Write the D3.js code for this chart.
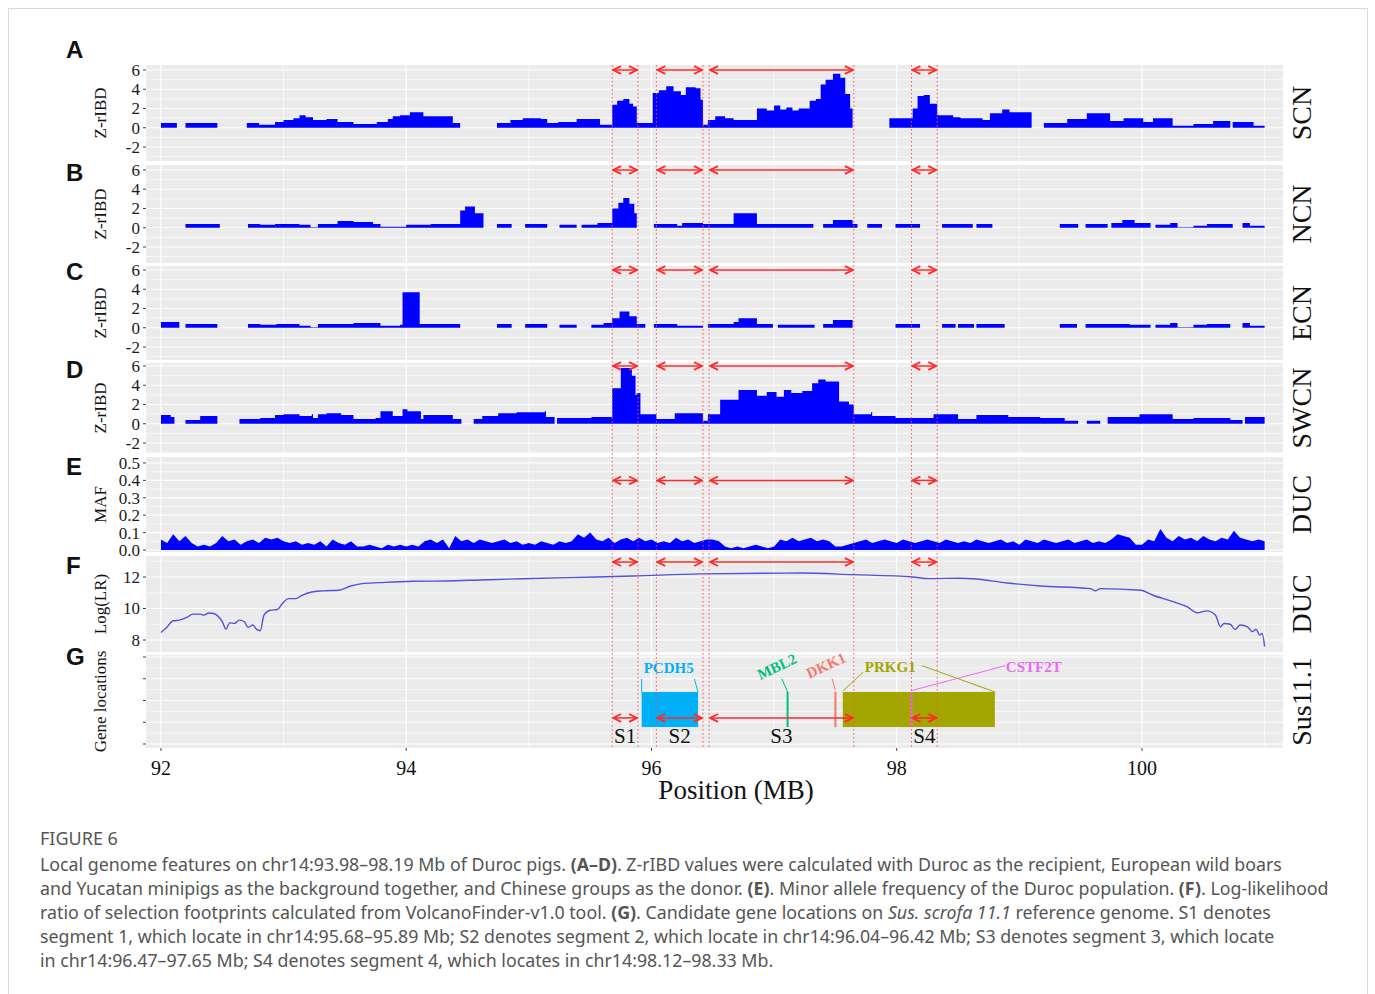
<!DOCTYPE html>
<html>
<head>
<meta charset="utf-8">
<script src="https://cdn.jsdelivr.net/npm/d3@7"></script>
<style>
body{margin:0;background:#fff;}
svg text{font-family:"Liberation Serif","Times New Roman",serif;}
svg text.letter{font-family:"Liberation Sans",Arial,sans-serif;font-weight:bold;}
svg text.cap{font-family:"Noto Sans",sans-serif;fill:#555;}
</style>
</head>
<body>
<svg id="chart" width="1375" height="994"></svg>
<script>
// ---- data (positions in Mb, Z-rIBD step values; null = no data until next point)
const scnSteps = [[92.00,0.5],[92.13,null],[92.20,0.5],[92.46,null],[92.70,0.5],[92.80,0.3],[92.93,0.6],[93.00,0.8],[93.08,1.0],[93.13,1.3],[93.18,1.1],[93.24,0.8],[93.35,0.9],[93.44,0.6],[93.57,0.4],[93.76,0.6],[93.85,0.9],[93.89,1.2],[93.95,1.3],[94.03,1.6],[94.14,1.2],[94.38,0.5],[94.44,null],
  [94.74,0.5],[94.85,0.8],[94.95,1.0],[95.10,0.9],[95.15,0.5],[95.24,0.6],[95.39,0.9],[95.58,0.3],[95.68,2.4],[95.72,2.8],[95.77,3.0],[95.82,2.5],[95.85,2.2],[95.88,0.5],[96.01,3.6],[96.06,3.9],[96.12,4.3],[96.18,3.8],[96.24,3.4],[96.28,4.2],[96.36,4.1],[96.40,2.9],[96.42,0.3],[96.46,0.8],[96.52,1.2],[96.60,1.0],[96.67,0.8],[96.86,2.0],[96.94,1.8],[97.00,2.3],[97.05,1.9],[97.10,2.1],[97.15,1.8],[97.20,2.0],[97.29,2.8],[97.34,3.0],[97.38,4.5],[97.42,5.0],[97.48,5.6],[97.54,5.2],[97.58,3.5],[97.62,2.0],[97.64,null],
  [97.94,1.0],[98.13,2.0],[98.17,3.3],[98.22,3.4],[98.27,2.5],[98.33,1.3],[98.46,1.1],[98.52,1.0],[98.70,0.8],[98.76,1.5],[98.86,1.9],[98.92,1.6],[99.10,null],
  [99.20,0.5],[99.39,0.9],[99.55,1.5],[99.74,0.7],[99.85,1.0],[100.01,0.6],[100.09,1.0],[100.25,0.2],[100.42,0.4],[100.58,0.7],[100.72,null],[100.74,0.6],[100.91,0.2],[101.00,null]];

const ncnSteps = [[92.20,0.4],[92.48,null],[92.71,0.4],[92.81,0.3],[92.93,0.4],[93.13,0.3],[93.22,0.05],[93.28,0.4],[93.44,0.7],[93.57,0.6],[93.73,0.4],[93.79,0.1],[94.00,0.3],[94.20,0.4],[94.44,1.8],[94.48,2.2],[94.56,1.5],[94.63,null],
  [94.74,0.4],[94.86,null],[94.97,0.4],[95.15,null],[95.25,0.3],[95.39,null],[95.43,0.3],[95.56,0.5],[95.68,2.0],[95.73,2.6],[95.77,3.1],[95.82,2.5],[95.86,1.5],[95.88,null],
  [96.02,0.4],[96.21,0.2],[96.25,0.5],[96.42,0.4],[96.67,1.5],[96.86,0.4],[97.32,null],[97.40,0.4],[97.48,0.8],[97.64,0.4],[97.68,null],[97.76,0.4],[97.88,null],[97.99,0.4],[98.19,null],
  [98.37,0.4],[98.62,null],[98.65,0.4],[98.78,null],[99.33,0.4],[99.48,null],[99.54,0.4],[99.72,null],[99.75,0.5],[99.84,0.8],[99.94,0.5],[100.07,null],
  [100.11,0.3],[100.23,0.5],[100.29,0.05],[100.42,0.2],[100.53,0.4],[100.74,null],[100.82,0.5],[100.88,0.2],[101.00,null]];

const ecnSteps = [[92.00,0.6],[92.15,null],[92.20,0.4],[92.46,null],[92.71,0.4],[92.81,0.3],[92.94,0.4],[93.13,0.2],[93.22,0.05],[93.28,0.4],[93.57,0.5],[93.79,0.2],[93.95,0.3],[93.97,3.7],[94.11,0.4],[94.44,null],
  [94.74,0.4],[94.86,null],[94.97,0.4],[95.15,null],[95.25,0.3],[95.39,null],[95.51,0.3],[95.61,0.5],[95.68,1.0],[95.74,1.7],[95.82,1.2],[95.88,0.4],[95.95,null],
  [96.02,0.4],[96.21,0.2],[96.42,null],[96.46,0.4],[96.67,0.6],[96.71,1.0],[96.86,0.4],[96.99,null],[97.03,0.3],[97.33,null],[97.40,0.4],[97.48,0.8],[97.64,null],
  [97.99,0.4],[98.19,null],[98.37,0.4],[98.48,null],[98.50,0.4],[98.63,null],[98.65,0.4],[98.88,null],[99.33,0.4],[99.47,null],[99.54,0.4],[99.90,0.3],[100.07,null],
  [100.11,0.3],[100.23,0.5],[100.29,0.05],[100.42,0.3],[100.53,0.4],[100.72,null],[100.82,0.5],[100.88,0.2],[101.00,null]];

const swcnSteps = [[92.00,0.9],[92.08,0.7],[92.11,null],[92.20,0.4],[92.32,0.8],[92.46,null],[92.64,0.5],[92.81,0.6],[92.93,0.9],[93.00,1.0],[93.13,0.8],[93.23,1.0],[93.24,0.6],[93.28,1.0],[93.35,1.1],[93.47,0.9],[93.57,0.5],[93.75,0.6],[93.79,1.3],[93.89,0.8],[93.97,1.5],[94.01,1.3],[94.12,0.5],[94.14,0.9],[94.38,0.5],[94.45,null],
  [94.55,0.5],[94.62,0.8],[94.75,1.1],[94.90,1.2],[95.13,1.3],[95.14,0.7],[95.21,null],[95.23,0.6],[95.51,0.7],[95.68,3.7],[95.75,5.8],[95.84,5.0],[95.87,3.0],[95.88,3.2],[95.91,1.0],[96.04,0.5],[96.19,1.1],[96.42,0.3],
  [96.46,1.0],[96.56,2.5],[96.71,3.5],[96.86,2.9],[96.94,3.3],[97.02,2.8],[97.08,3.5],[97.14,3.2],[97.23,3.4],[97.31,4.2],[97.36,4.6],[97.42,4.4],[97.53,2.3],[97.61,2.0],[97.65,1.0],[97.79,1.2],[97.80,0.8],[97.99,0.6],
  [98.30,1.0],[98.50,0.5],[98.65,0.9],[98.91,0.7],[99.17,0.6],[99.37,0.3],[99.48,null],[99.55,0.3],[99.66,null],[99.72,0.7],[99.98,1.0],[100.25,0.5],[100.42,0.6],[100.72,0.4],[100.82,null],[100.84,0.7],[101.00,null]];

// minor allele frequency, one value every 0.05 Mb from 92.00
const mafStart = 92.0, mafStep = 0.05;
const mafValues = [0.06,0.04,0.09,0.05,0.08,0.04, 0.02,0.03,0.02, 0.04,0.08,0.05,0.06,0.03,0.05,0.06,0.04,
  0.07,0.06,0.07,0.05, 0.04,0.05,0.03,0.04, 0.03,0.05,0.02,0.06,0.04,0.03,0.05,0.02,
  0.02,0.03,0.02,0.01,0.03,0.02,0.03,0.02,0.03,0.02, 0.05,0.06,0.04,0.06, 0.01, 0.08,
  0.05,0.06,0.04,0.06,0.05,0.04,0.05,0.06,0.04,0.05,0.03, 0.04,0.03,0.05,0.04,0.03,0.05,0.04,0.05,
  0.09,0.07,0.10,0.06, 0.05,0.07,0.04,0.06,0.07,0.05,0.07, 0.05,0.06,0.04, 0.05,0.04,0.07,0.05,0.06,0.04,0.05,
  0.06,0.06,0.05, 0.02,0.01,0.02,0.01,0.02,0.03,0.02,0.01,0.02, 0.06,0.05,0.07,0.05,0.06,0.07,0.05,0.06,0.05,
  0.02,0.02,0.03, 0.04,0.05,0.06,0.04,0.05,0.06,0.05,0.04,0.06,0.05,0.04,0.05,0.06,0.05,0.04,0.06,0.05,0.04,
  0.05,0.04,0.06,0.05,0.04,0.05,0.06,0.04,0.05,0.03,0.06,0.05,0.04,0.06,0.05,0.04,0.05,0.06,0.04,0.05,0.06,0.04,0.05,0.04,0.06,
  0.09,0.08,0.07, 0.03,0.03, 0.06,0.05,0.12,0.07,0.05,0.08,0.06,0.07,0.05,0.08,0.06,0.05,0.07,0.06,0.11,0.07,0.06,0.05,0.06,0.05];

// VolcanoFinder log-likelihood ratio
const lrPos = [92.00,92.04,92.10,92.15,92.21,92.26,92.32,92.35,92.39,92.43,92.47,92.50,92.53,92.56,92.60,92.64,92.68,92.71,92.75,92.78,92.81,92.84,92.89,92.95,92.99,93.04,93.10,93.15,93.23,93.32,93.45,93.54,93.64,93.78,94.05,94.33,94.60,94.95,95.31,95.85,96.40,97.21,97.64,98.13,98.27,98.52,98.62,98.90,99.17,99.58,99.62,99.66,99.99,100.09,100.26,100.37,100.45,100.53,100.60,100.64,100.67,100.72,100.76,100.80,100.86,100.90,100.93,100.96,100.98,101.00];
const lrValues = [8.48,8.74,9.22,9.26,9.43,9.64,9.64,9.58,9.71,9.68,9.47,9.16,8.69,9.09,9.05,9.26,9.16,8.80,8.95,8.67,8.59,9.58,9.89,9.94,10.32,10.63,10.63,10.84,11.05,11.12,11.16,11.41,11.58,11.64,11.73,11.75,11.81,11.89,11.96,12.06,12.20,12.25,12.15,12.00,11.90,11.92,11.89,11.62,11.43,11.26,11.12,11.26,11.16,10.84,10.42,10.10,9.73,9.85,9.57,8.84,9.05,9.00,8.67,8.95,8.84,8.53,8.67,8.31,8.42,7.58];

// candidate genes
const geneNames = ['PCDH5','MBL2','DKK1','PRKG1','CSTF2T'];
const geneStart = [95.92, 97.11, 97.50, 97.56, 98.12];
const geneEnd   = [96.38, 97.11, 97.50, 98.80, 98.12];
const geneColors = ['#00B0F6','#00BF7D','#F8766D','#A3A500','#E76BF3'];

// selected segments
const segLabels = ['S1','S2','S3','S4'];
const segStart = [95.68, 96.04, 96.47, 98.12];
const segEnd   = [95.89, 96.42, 97.65, 98.33];

const xTicks = [92, 94, 96, 98, 100];
const zTicks = [-2, 0, 2, 4, 6];
const mafTicks = [0.0, 0.1, 0.2, 0.3, 0.4, 0.5];
const lrTicks = [8, 10, 12];
const geneTicks = [1, 2, 3, 4, 5];

// ---- layout
const svg = d3.select('#chart');
const RED = '#ff2a2a';
const BLUE = '#0000ff';

svg.append('rect').attr('x', 8.5).attr('y', 8.5).attr('width', 1359).attr('height', 1010)
    .attr('fill', 'none').attr('stroke', '#d9d9d9');

const x = d3.scaleLinear().domain([91.878, 101.15]).range([146, 1283]);
const xL = 146, xR = 1283;
const intFmt = v=>String(v);          // plain hyphen, as in the figure

const panels = [
    {letter:'A', strip:'SCN',  title:'Z-rIBD', top:65,  bottom:161, ref:[-2,6],  refPx:[147,70],  ticks:zTicks, minor:[-3,-1,1,3,5], fmt:intFmt, letterY:58,  arrowV:6,   steps:scnSteps},
    {letter:'B', strip:'NCN',  title:'Z-rIBD', top:165, bottom:263, ref:[-2,6],  refPx:[247,170], ticks:zTicks, minor:[-3,-1,1,3,5], fmt:intFmt, letterY:181, arrowV:6,   steps:ncnSteps},
    {letter:'C', strip:'ECN',  title:'Z-rIBD', top:266, bottom:360, ref:[-2,6],  refPx:[347,270], ticks:zTicks, minor:[-3,-1,1,3,5], fmt:intFmt, letterY:280, arrowV:6,   steps:ecnSteps},
    {letter:'D', strip:'SWCN', title:'Z-rIBD', top:363, bottom:453, ref:[-2,6],  refPx:[443,366], ticks:zTicks, minor:[-3,-1,1,3,5], fmt:intFmt, letterY:378, arrowV:6,   steps:swcnSteps},
    {letter:'E', strip:'DUC',  title:'MAF',    top:457, bottom:552, ref:[0,0.5], refPx:[550,463], ticks:mafTicks, minor:d3.range(0.05,0.5,0.1), fmt:d3.format('.1f'), letterY:475, arrowV:0.4},
    {letter:'F', strip:'DUC',  title:'Log(LR)', top:556, bottom:652, ref:[8,12], refPx:[640,577], ticks:lrTicks, minor:[7,9,11,13], fmt:intFmt, letterY:574, arrowV:12.95},
    {letter:'G', strip:'Sus11.1', title:'Gene locations', top:655, bottom:748, ref:[1,5], refPx:[744,657], ticks:geneTicks, minor:[1.5,2.5,3.5,4.5], fmt:()=>'', letterY:665, arrowV:2.2}
];

function stepPoints(pairs){
    const out = [];
    for(let i = 0; i < pairs.length - 1; i++){
        const p = pairs[i][0], v = pairs[i][1];
        if(v === null){ out.push({x:p, y:null}); continue; }
        out.push({x:p, y:v});
        out.push({x:pairs[i+1][0], y:v});
    }
    return out;
}

panels.forEach((p, idx)=>{
    const y = d3.scaleLinear().domain(p.ref).range(p.refPx);
    p.y = y;
    const g = svg.append('g');
    g.append('rect').attr('x', xL).attr('y', p.top).attr('width', xR - xL).attr('height', p.bottom - p.top).attr('fill', '#ebebeb');

    // grid
    p.minor.forEach(v=>{
        if(y(v) < p.top || y(v) > p.bottom) return;
        g.append('line').attr('x1', xL).attr('x2', xR).attr('y1', y(v)).attr('y2', y(v)).attr('stroke', '#fff').attr('stroke-width', 0.6);
    });
    p.ticks.forEach(v=>{
        g.append('line').attr('x1', xL).attr('x2', xR).attr('y1', y(v)).attr('y2', y(v)).attr('stroke', '#fff').attr('stroke-width', 1.2);
    });
    [93, 95, 97, 99, 101].forEach(v=>{
        g.append('line').attr('x1', x(v)).attr('x2', x(v)).attr('y1', p.top).attr('y2', p.bottom).attr('stroke', '#fff').attr('stroke-width', 0.6);
    });
    xTicks.forEach(v=>{
        g.append('line').attr('x1', x(v)).attr('x2', x(v)).attr('y1', p.top).attr('y2', p.bottom).attr('stroke', '#fff').attr('stroke-width', 1.2);
    });

    // y axis
    p.ticks.forEach(v=>{
        g.append('line').attr('x1', xL - 3).attr('x2', xL).attr('y1', y(v)).attr('y2', y(v)).attr('stroke', '#444').attr('stroke-width', 1);
        g.append('text').attr('x', xL - 6).attr('y', y(v)).attr('dy', '0.35em').attr('text-anchor', 'end')
            .attr('font-size', 17).attr('fill', '#1a1a1a').text(p.fmt(v));
    });
    g.append('text').attr('transform', `translate(106,${(p.top + p.bottom)/2}) rotate(-90)`).attr('text-anchor', 'middle')
        .attr('font-size', 17).attr('fill', '#111').text(p.title);

    // strip label
    g.append('text').attr('transform', `translate(1311,${(p.top + p.bottom)/2}) rotate(-90)`).attr('text-anchor', 'middle')
        .attr('font-size', 28).attr('fill', '#111').text(p.strip);

    // panel letter
    g.append('text').attr('class', 'letter').attr('x', 66).attr('y', p.letterY)
        .attr('font-size', 24).attr('fill', '#111').text(p.letter);

    // Z-rIBD step areas
    if(p.steps){
        const area = d3.area().defined(d=>d.y !== null).x(d=>x(d.x)).y0(y(0)).y1(d=>y(d.y));
        g.append('path').datum(stepPoints(p.steps)).attr('d', area).attr('fill', BLUE);
    }
});

// E: MAF
{
    const y = panels[4].y;
    const data = mafValues.map((v, i)=>({x: mafStart + i * mafStep, y: v}));
    const area = d3.area().x(d=>x(d.x)).y0(y(0)).y1(d=>y(d.y)).curve(d3.curveLinear);
    svg.append('path').datum(data).attr('d', area).attr('fill', BLUE);
}

// F: log-likelihood line
{
    const y = panels[5].y;
    const line = d3.line().x(d=>x(d[0])).y(d=>y(d[1])).curve(d3.curveMonotoneX);
    svg.append('path').datum(lrPos.map((p, i)=>[p, lrValues[i]])).attr('d', line)
        .attr('fill', 'none').attr('stroke', '#5252dc').attr('stroke-width', 1.4);
}

// G: gene locations
const gy = panels[6].y;
const boxTop = 3.39, boxBot = 1.78;
const gG = svg.append('g');
geneNames.forEach((name, i)=>{
    if(geneEnd[i] > geneStart[i]){
        gG.append('rect').attr('x', x(geneStart[i])).attr('y', gy(boxTop)).attr('width', x(geneEnd[i]) - x(geneStart[i]))
            .attr('height', gy(boxBot) - gy(boxTop)).attr('fill', geneColors[i]);
    }else{
        gG.append('line').attr('x1', x(geneStart[i])).attr('x2', x(geneStart[i])).attr('y1', gy(boxTop)).attr('y2', gy(boxBot))
            .attr('stroke', geneColors[i]).attr('stroke-width', 2);
    }
});

// gene labels and connectors (label anchor in Mb / panel units)
const geneLabelLayout = [
    {i:0, lx:96.14, ly:4.28, anchor:'middle', rot:0,   links:[[95.92,3.99,95.92,boxTop],[96.35,3.99,96.38,boxTop]]},
    {i:1, lx:97.04, ly:4.35, anchor:'middle', rot:-25, links:[[97.063,4.0,97.11,boxTop]]},
    {i:2, lx:97.44, ly:4.40, anchor:'middle', rot:-25, links:[[97.473,4.0,97.498,3.5]]},
    {i:3, lx:97.74, ly:4.30, anchor:'start',  rot:0,   links:[[97.726,4.3,97.563,3.45],[98.207,4.6,98.803,boxTop]]},
    {i:4, lx:98.89, ly:4.33, anchor:'start',  rot:0,   links:[[98.884,4.6,98.117,3.45]]}
];
geneLabelLayout.forEach(l=>{
    const c = geneColors[l.i];
    l.links.forEach(k=>{
        gG.append('line').attr('x1', x(k[0])).attr('y1', gy(k[1])).attr('x2', x(k[2])).attr('y2', gy(k[3]))
            .attr('stroke', c).attr('stroke-width', 1);
    });
    gG.append('text').attr('transform', `translate(${x(l.lx)},${gy(l.ly)}) rotate(${l.rot})`)
        .attr('text-anchor', l.anchor).attr('font-size', 15).attr('font-weight', 'bold').attr('fill', c).text(geneNames[l.i]);
});

// segment guides
svg.append('defs').append('marker').attr('id', 'ah').attr('viewBox', '0 0 8 8').attr('refX', 7).attr('refY', 4)
    .attr('markerWidth', 7).attr('markerHeight', 7).attr('orient', 'auto-start-reverse')
  .append('path').attr('d', 'M1,1 L7,4 L1,7').attr('fill', 'none').attr('stroke', RED).attr('stroke-width', 1.4);

segStart.concat(segEnd).forEach(v=>{
    svg.append('line').attr('x1', x(v)).attr('x2', x(v)).attr('y1', 65).attr('y2', 748)
        .attr('stroke', '#ff5050').attr('stroke-width', 1).attr('stroke-dasharray', '1.5,2.5');
});
panels.forEach(p=>{
    segStart.forEach((s, i)=>{
        svg.append('line').attr('x1', x(s) + 1).attr('x2', x(segEnd[i]) - 1).attr('y1', p.y(p.arrowV)).attr('y2', p.y(p.arrowV))
            .attr('stroke', RED).attr('stroke-width', 1.5)
            .attr('marker-start', 'url(#ah)').attr('marker-end', 'url(#ah)');
    });
});
segLabels.forEach((s, i)=>{
    svg.append('text').attr('x', x((segStart[i] + segEnd[i]) / 2)).attr('y', gy(1.05)).attr('text-anchor', 'middle')
        .attr('font-size', 21).attr('fill', '#111').text(s);
});

// x axis
xTicks.forEach(v=>{
    svg.append('line').attr('x1', x(v)).attr('x2', x(v)).attr('y1', 748).attr('y2', 751).attr('stroke', '#444');
    svg.append('text').attr('x', x(v)).attr('y', 775).attr('text-anchor', 'middle').attr('font-size', 20).attr('fill', '#111').text(v);
});
svg.append('text').attr('x', 736).attr('y', 799).attr('text-anchor', 'middle').attr('font-size', 27).attr('fill', '#111').text('Position (MB)');

// caption
svg.append('text').attr('class', 'cap').attr('x', 40).attr('y', 845).attr('font-size', 18).text('FIGURE 6');
const capLines = [
    [['Local genome features on chr14:93.98–98.19 Mb of Duroc pigs. ',''],['(A–D)','b'],['. Z-rIBD values were calculated with Duroc as the recipient, European wild boars','']],
    [['and Yucatan minipigs as the background together, and Chinese groups as the donor. ',''],['(E)','b'],['. Minor allele frequency of the Duroc population. ',''],['(F)','b'],['. Log-likelihood','']],
    [['ratio of selection footprints calculated from VolcanoFinder-v1.0 tool. ',''],['(G)','b'],['. Candidate gene locations on ',''],['Sus. scrofa 11.1','i'],[' reference genome. S1 denotes','']],
    [['segment 1, which locate in chr14:95.68–95.89 Mb; S2 denotes segment 2, which locate in chr14:96.04–96.42 Mb; S3 denotes segment 3, which locate','']],
    [['in chr14:96.47–97.65 Mb; S4 denotes segment 4, which locates in chr14:98.12–98.33 Mb.','']]
];
capLines.forEach((parts, li)=>{
    const t = svg.append('text').attr('class', 'cap').attr('x', 40).attr('y', 871 + li * 24).attr('font-size', 17.8);
    parts.forEach(pt=>{
        const ts = t.append('tspan').text(pt[0]);
        if(pt[1] === 'b') ts.attr('font-weight', 'bold');
        if(pt[1] === 'i') ts.attr('font-style', 'italic');
    });
});
</script>
</body>
</html>
